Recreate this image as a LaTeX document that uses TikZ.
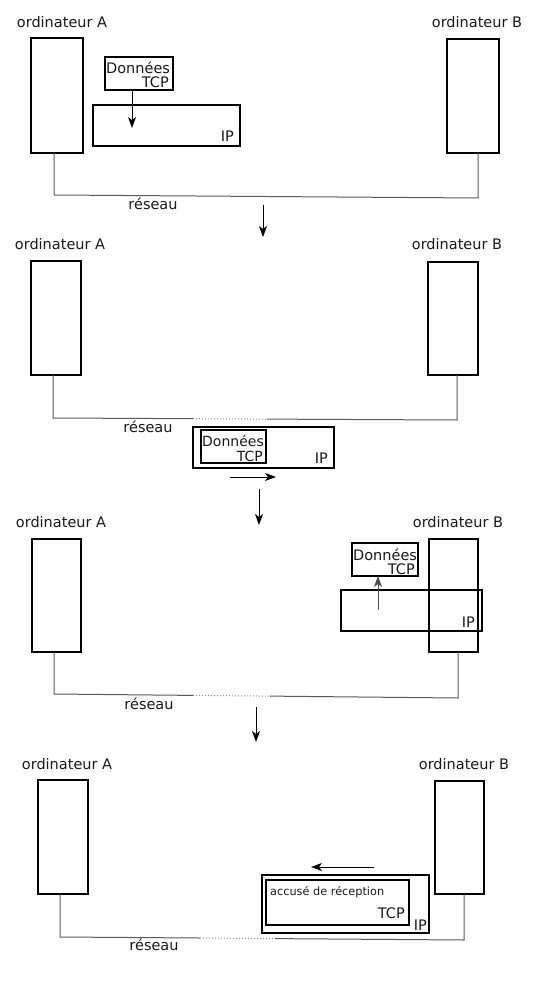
\documentclass[tikz,border=0pt]{standalone}
\usepackage{fontspec}
\setmainfont{DejaVu Sans}
\usetikzlibrary{arrows.meta}
\begin{document}
\begin{tikzpicture}[x=1pt,y=-1pt,
  comp/.style={draw, line width=1.8pt, inner sep=0, outer sep=0, anchor=north west},
  pkt/.style={draw, line width=1.6pt, inner sep=0, outer sep=0, anchor=north west},
  lbl/.style={font=\fontsize{14.5}{16}\selectfont, inner sep=0, text=black!90},
  small/.style={font=\fontsize{11.3}{13}\selectfont, inner sep=0, text=black!90},
  net/.style={draw=black!65, line width=1pt},
  netdot/.style={draw=black!45, line width=1pt, dotted},
  mv/.style={-{Stealth[length=11pt,width=8pt,inset=3pt]}, line width=1pt},
]
\useasboundingbox (0,0) rectangle (547,1008);

% ---------------- Panel 1 ----------------
\node[lbl] (tA1) at (62,22) {ordinateur A};
\node[lbl] (tB1) at (477,22) {ordinateur B};
\node[comp, minimum width=52pt, minimum height=115pt] (A1) at (31,38) {};
\node[comp, minimum width=52pt, minimum height=114pt] (B1) at (447,39) {};
\node[pkt, minimum width=147pt, minimum height=41pt] (IP1) at (93,105) {};
\node[lbl, anchor=base east] (IP1l) at ([xshift=-6pt,yshift=4pt]IP1.south east) {IP};
\node[pkt, minimum width=68pt, minimum height=33pt] (D1) at (105,57) {};
\node[lbl, anchor=base west] (D1d) at ([xshift=1pt,yshift=-17pt]D1.north west) {Données};
\node[lbl, anchor=base east] (D1t) at ([xshift=-4pt,yshift=2pt]D1.south east) {TCP};
\coordinate (m1a) at (132,91);
\coordinate (m1b) at (132,128);
\draw[mv] (m1a) -- (m1b);
\coordinate (n1l) at (54,195);
\coordinate (n1r) at (478,198);
\draw[net] (A1.south -| n1l) -- (n1l) -- (n1r) -- (B1.south -| n1r);
\node[lbl] (r1) at (153,204) {réseau};
\coordinate (s1a) at (263,205);
\coordinate (s1b) at (263,237);
\draw[mv] (s1a) -- (s1b);

% ---------------- Panel 2 ----------------
\node[lbl] (tA2) at (60,244) {ordinateur A};
\node[lbl] (tB2) at (457,244) {ordinateur B};
\node[comp, minimum width=50pt, minimum height=114pt] (A2) at (31,261) {};
\node[comp, minimum width=50pt, minimum height=113pt] (B2) at (428,262) {};
\coordinate (n2l) at (53,418);
\coordinate (n2a) at (193,418.7);
\coordinate (n2b) at (267,419.1);
\coordinate (n2r) at (457,420);
\draw[net] (A2.south -| n2l) -- (n2l) -- (n2a);
\draw[netdot] (n2a) -- (n2b);
\draw[net] (n2b) -- (n2r) -- (B2.south -| n2r);
\node[lbl] (r2) at (148,427) {réseau};
\node[pkt, minimum width=141pt, minimum height=41pt] (IP2) at (193,427) {};
\node[lbl, anchor=base east] (IP2l) at ([xshift=-6pt,yshift=5pt]IP2.south east) {IP};
\node[pkt, minimum width=65pt, minimum height=33pt] (D2) at (201,430) {};
\node[lbl, font=\fontsize{14}{16}\selectfont, anchor=base west] (D2d) at ([xshift=1pt,yshift=-16pt]D2.north west) {Données};
\node[lbl, font=\fontsize{14}{16}\selectfont, anchor=base east] (D2t) at ([xshift=-3pt,yshift=2pt]D2.south east) {TCP};
\coordinate (m2a) at (230,477);
\coordinate (m2b) at (276,477);
\draw[mv] (m2a) -- (m2b);
\coordinate (s2a) at (259,489);
\coordinate (s2b) at (259,525);
\draw[mv] (s2a) -- (s2b);

% ---------------- Panel 3 ----------------
\node[lbl] (tA3) at (61,522) {ordinateur A};
\node[lbl] (tB3) at (458,522) {ordinateur B};
\node[comp, minimum width=49pt, minimum height=113pt] (A3) at (32,539) {};
\node[comp, minimum width=49pt, minimum height=113pt] (B3) at (429,539) {};
\node[pkt, minimum width=66pt, minimum height=33pt] (D3) at (352,543) {};
\node[lbl, anchor=base west] (D3d) at ([xshift=1pt,yshift=-17pt]D3.north west) {Données};
\node[lbl, anchor=base east] (D3t) at ([xshift=-3pt,yshift=2pt]D3.south east) {TCP};
\node[pkt, minimum width=141pt, minimum height=41pt] (IP3) at (341,590) {};
\node[lbl, anchor=base east] (IP3l) at ([xshift=-7pt,yshift=4pt]IP3.south east) {IP};
\coordinate (m3a) at (378,610);
\coordinate (m3b) at (378,576);
\draw[mv, draw=black!70] (m3a) -- (m3b);
\coordinate (n3l) at (54,694);
\coordinate (n3a) at (193,695.4);
\coordinate (n3b) at (270,696.1);
\coordinate (n3r) at (458,698);
\draw[net] (A3.south -| n3l) -- (n3l) -- (n3a);
\draw[netdot] (n3a) -- (n3b);
\draw[net] (n3b) -- (n3r) -- (B3.south -| n3r);
\node[lbl] (r3) at (149,704) {réseau};
\coordinate (s3a) at (256,707);
\coordinate (s3b) at (256,742);
\draw[mv] (s3a) -- (s3b);

% ---------------- Panel 4 ----------------
\node[lbl] (tA4) at (67,764) {ordinateur A};
\node[lbl] (tB4) at (464,764) {ordinateur B};
\node[comp, minimum width=50pt, minimum height=114pt] (A4) at (38,780) {};
\node[comp, minimum width=49pt, minimum height=113pt] (B4) at (435,781) {};
\coordinate (n4l) at (60,937);
\coordinate (n4a) at (200,938);
\coordinate (n4b) at (275,938.6);
\coordinate (n4r) at (464,940);
\draw[net] (A4.south -| n4l) -- (n4l) -- (n4a);
\draw[netdot] (n4a) -- (n4b);
\draw[net] (n4b) -- (n4r) -- (B4.south -| n4r);
\node[lbl] (r4) at (154,945) {réseau};
\node[pkt, minimum width=167pt, minimum height=58pt] (IP4) at (262,875) {};
\node[pkt, minimum width=143pt, minimum height=45pt] (T4) at (266,880) {};
\node[small, anchor=base west] (T4a) at ([xshift=4pt,yshift=-15pt]T4.north west) {accusé de réception};
\node[lbl, anchor=base east] (T4t) at ([xshift=-4pt,yshift=7pt]T4.south east) {TCP};
\node[lbl, anchor=base east] (IP4l) at ([xshift=-2pt,yshift=3pt]IP4.south east) {IP};
\coordinate (m4a) at (374,867);
\coordinate (m4b) at (311,867);
\draw[mv] (m4a) -- (m4b);
\end{tikzpicture}
\end{document}
